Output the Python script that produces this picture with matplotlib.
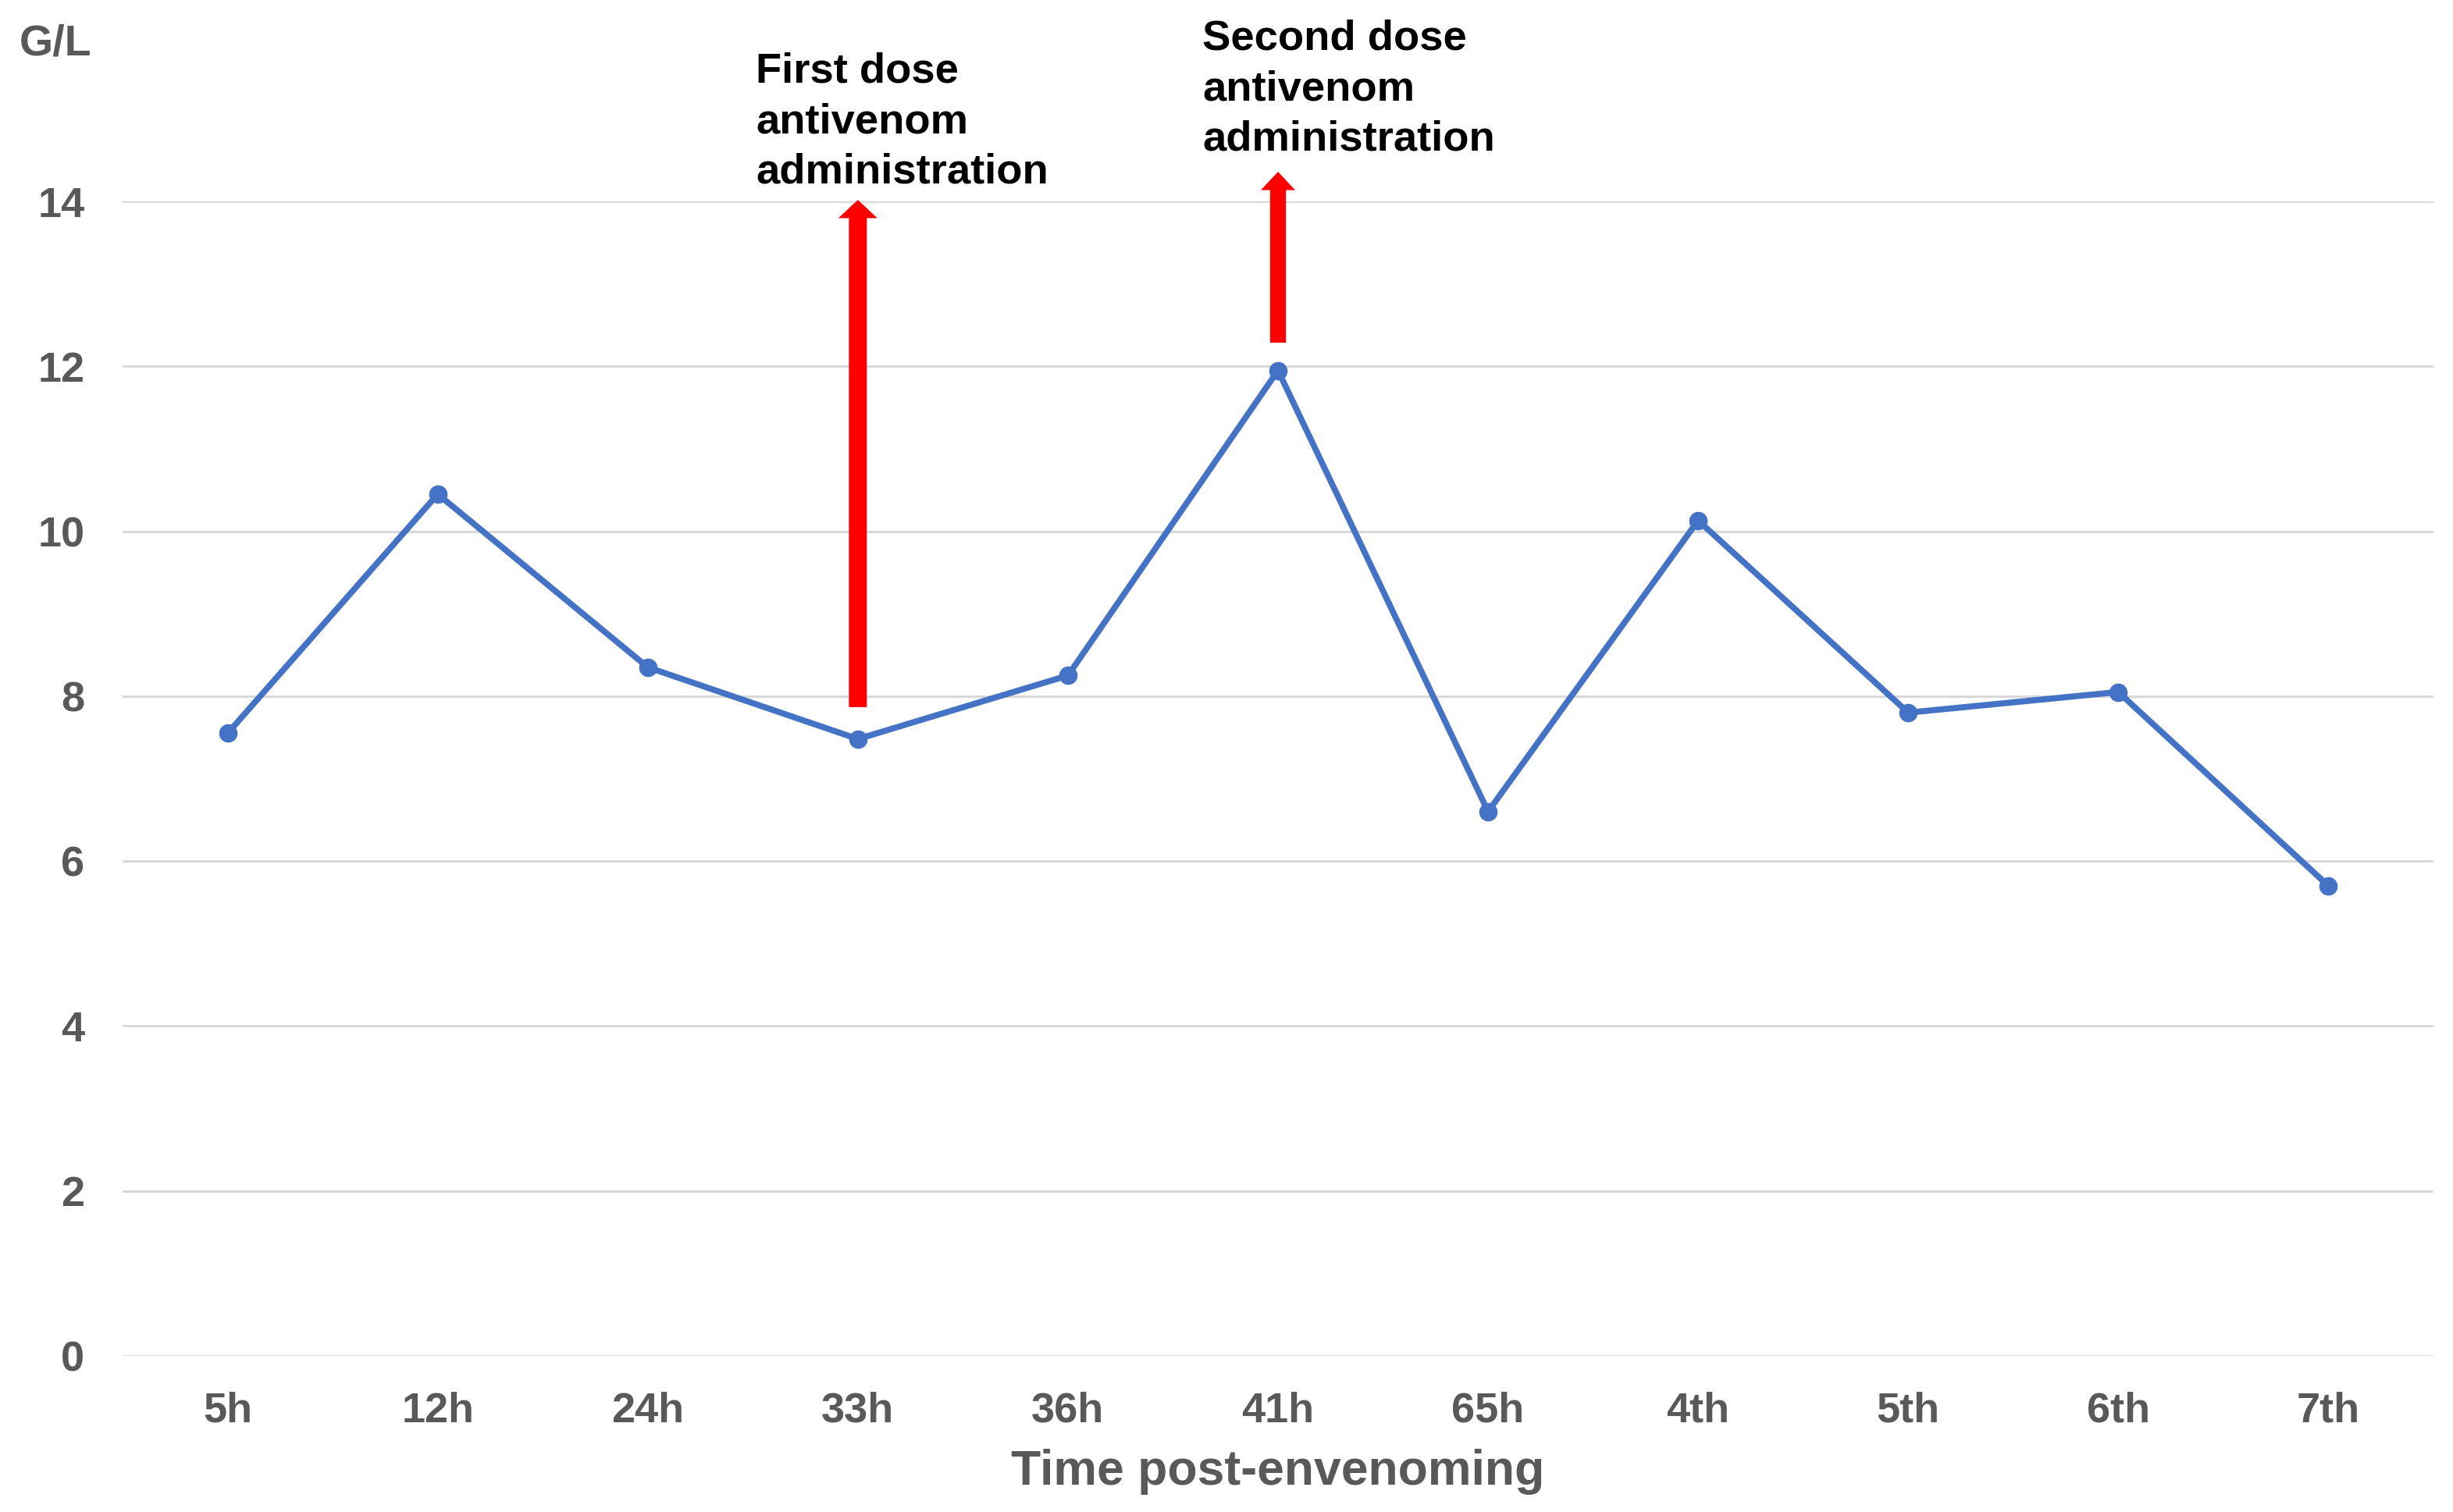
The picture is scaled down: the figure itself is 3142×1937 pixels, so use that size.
import matplotlib
matplotlib.use('Agg')
import matplotlib.pyplot as plt
import numpy as np

plt.rcParams['font.family'] = ['Liberation Sans', 'DejaVu Sans']

# data
times = ['5h', '12h', '24h', '33h', '36h', '41h', '65h', '4th', '5th', '6th', '7th']
values = [7.55, 10.45, 8.35, 7.48, 8.25, 11.95, 6.6, 10.13, 7.8, 8.05, 5.7]
yticks = [0, 2, 4, 6, 8, 10, 12, 14]

# antivenom doses
dose_at = ['33h', '41h']
dose_from = [7.88, 12.30]
dose_to = [14.0, 14.34]
dose_text = ['First dose\nantivenom\nadministration', 'Second dose\nantivenom\nadministration']

grey = '#595959'

fig = plt.figure(figsize=(15.71, 9.685), dpi=200)
ax = fig.add_axes([0.050, 0.1033, 0.942, 0.7635])

x = np.arange(len(times))
ax.plot(x, values, color='#4472C4', lw=2.8, marker='o', ms=7.5, zorder=3)

ax.set_xlim(-0.5, len(times) - 0.5)
ax.set_ylim(0, 14)
ax.set_yticks(yticks)
ax.set_xticks(x)
ax.set_xticklabels(times)
ax.grid(axis='y', color='#d9d9d9', lw=1.1)
ax.set_axisbelow(True)
for s in ax.spines.values():
    s.set_visible(False)
ax.tick_params(axis='both', length=0, labelsize=19.5, labelcolor=grey)
ax.tick_params(axis='y', pad=17.5)
ax.tick_params(axis='x', pad=16.5)
for lab in ax.get_xticklabels() + ax.get_yticklabels():
    lab.set_fontweight('bold')

ax.set_xlabel('Time post-envenoming', fontsize=22.5, fontweight='bold', color=grey, labelpad=8.5)
fig.text(25 / 3142, 1 - 70 / 1937, 'G/L', fontsize=20, fontweight='bold', color=grey, va='baseline')

# arrows + labels (text anchored on the baseline of its last line)
text_dx = [-0.486, -0.36]
text_base = [14.22, 14.62]
for i in range(len(dose_at)):
    xi = times.index(dose_at[i])
    ax.arrow(xi, dose_from[i], 0, dose_to[i] - dose_from[i], width=0.075 - 0.01 * i,
             head_width=0.16 - 0.02 * i, head_length=0.19, length_includes_head=True,
             color='#FF0000', clip_on=False, zorder=4)
    ax.text(xi + text_dx[i], text_base[i], dose_text[i], fontsize=19.6, fontweight='bold',
            color='black', va='baseline', ha='left', linespacing=1.37, clip_on=False)

fig.savefig('out.png', dpi=200, facecolor='white')
